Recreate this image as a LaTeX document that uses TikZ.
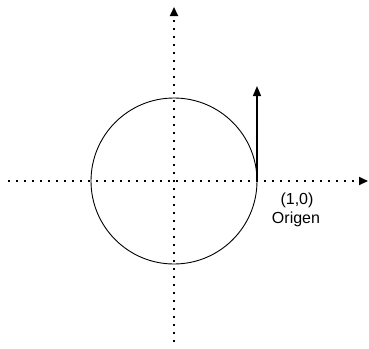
\documentclass[tikz,border=0pt]{standalone}
\usepackage{fontspec}
\setmainfont{Liberation Sans}
\usetikzlibrary{arrows.meta}
\begin{document}
\begin{tikzpicture}[x=1pt,y=-1pt,
  axis/.style={line width=1.8pt,dash pattern=on 1.8pt off 6.2pt,-{Triangle[length=9pt,width=8pt]}},
  vec/.style={line width=1.3pt,-{Triangle[length=10pt,width=8pt]}},
  lbl/.style={font=\fontsize{16}{18}\selectfont,inner sep=0pt}]
\useasboundingbox (0,0) rectangle (369,348);
\coordinate (O) at (174,181);
\coordinate (xl) at (8,181);
\coordinate (xr) at (368,181);
\coordinate (yb) at (174,342);
\coordinate (yt) at (174,7);
\coordinate (P) at (257,181);
\coordinate (Q) at (257,86);
\draw[axis] (xl) -- (xr);
\draw[axis] (yb) -- (yt);
\draw[line width=0.9pt] (O) circle (83);
\draw[vec] (P) -- (Q);
\node[lbl] (c) at (297,200) {(1,0)};
\node[lbl] (o) at (296,219) {Origen};
\end{tikzpicture}
\end{document}
